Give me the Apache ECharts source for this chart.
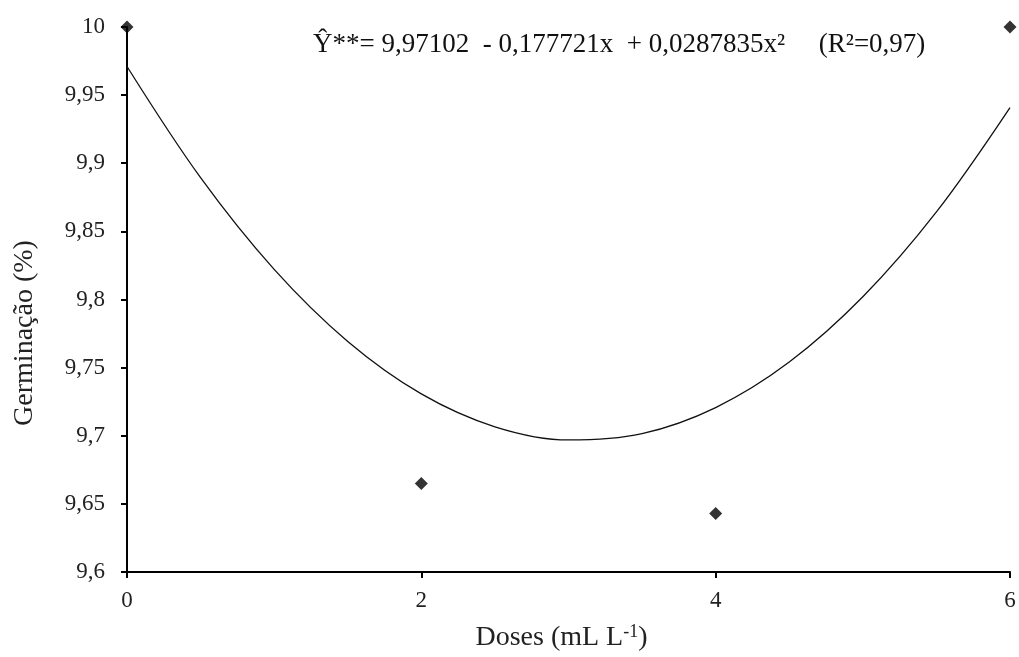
<!DOCTYPE html>
<html>
<head>
<meta charset="utf-8">
<script src="https://cdn.jsdelivr.net/npm/echarts@6/dist/echarts.min.js"></script>
<style>html,body{margin:0;padding:0;background:#fff;overflow:hidden;width:1019px;height:657px}#c{width:1019px;height:657px;overflow:hidden}</style>
</head>
<body>
<div id="c"></div>
<script>
// Observed data points
const doses = [0, 2, 4, 6];
const germinacao = [10, 9.665, 9.643, 10];
// Fitted curve (x, y)
const curveX = [0, 0.5, 1, 1.5, 2, 2.5, 3, 3.5, 4, 4.5, 5, 5.5, 6];
const curveY = [9.9710, 9.8894, 9.8221, 9.7692, 9.7307, 9.7066, 9.6969, 9.7016, 9.7207, 9.7541, 9.8020, 9.8643, 9.9409];
const equationText = 'Ŷ**= 9,97102  - 0,177721x  + 0,0287835x²     (R²=0,97)';
const xTitle = 'Doses (mL L';
const xTitleSup = '-1';
const yTitle = 'Germinação (%)';

const font = 'Liberation Serif';
const chart = echarts.init(document.getElementById('c'));
chart.setOption({
  backgroundColor: '#fff',
  animation: false,
  textStyle: {fontFamily: font, color: '#000'},
  grid: {left: 127, right: 9, top: 27, bottom: 77, containLabel: false},
  xAxis: {
    type: 'value', min: 0, max: 6, interval: 2,
    axisLine: {show: true, lineStyle: {color: '#000', width: 2}},
    axisTick: {show: true, length: 6, lineStyle: {color: '#000', width: 2}},
    splitLine: {show: false},
    axisLabel: {fontFamily: font, fontSize: 23, color: '#222', margin: 17},
    name: xTitle + '{sup|' + xTitleSup + '})',
    nameLocation: 'middle', nameGap: 51,
    nameTextStyle: {
      fontFamily: font, fontSize: 28, color: '#222', padding: [0, 14, 0, 0],
      rich: {sup: {fontFamily: font, fontSize: 18, color: '#222', verticalAlign: 'top', padding: [0, 0, 12, 0]}}
    }
  },
  yAxis: {
    type: 'value', min: 9.6, max: 10, interval: 0.05,
    axisLine: {show: true, onZero: false, lineStyle: {color: '#000', width: 2}},
    axisTick: {show: true, length: 6, lineStyle: {color: '#000', width: 2}},
    splitLine: {show: false},
    axisLabel: {
      fontFamily: font, fontSize: 23, color: '#222', margin: 22,
      formatter: v => String(Number(v.toFixed(2))).replace('.', ',')
    }
  },
  graphic: [
    {
      type: 'text', left: 313, top: 31,
      style: {text: equationText, fontFamily: font, fontSize: 27, fill: '#111'}
    },
    {
      type: 'text', x: 25, y: 333, rotation: Math.PI / 2,
      style: {text: yTitle, fontFamily: font, fontSize: 28, fill: '#222', align: 'center', verticalAlign: 'middle'}
    }
  ],
  series: [
    {
      type: 'line', smooth: 0.35, showSymbol: false, silent: true,
      data: curveX.map((x, i) => [x, curveY[i]]),
      lineStyle: {color: '#111', width: 1.3}, z: 2
    },
    {
      type: 'scatter', symbol: 'diamond', symbolSize: 13,
      data: doses.map((x, i) => [x, germinacao[i]]),
      itemStyle: {color: '#000'}, z: 3
    }
  ]
});
</script>
</body>
</html>
